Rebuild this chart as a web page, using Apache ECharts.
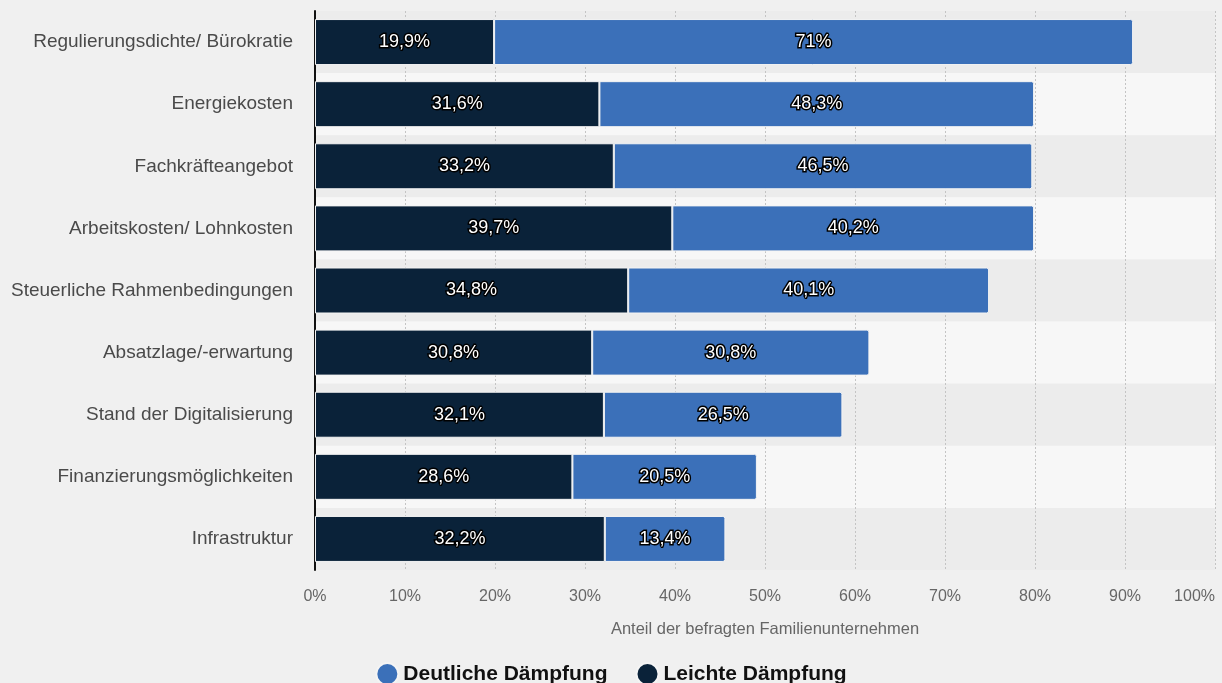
<!DOCTYPE html>
<html>
<head>
<meta charset="utf-8">
<script src="https://cdn.jsdelivr.net/npm/echarts@6/dist/echarts.min.js"></script>
<style>
html,body{margin:0;padding:0;background:#f0f0f0;}
#c{width:1222px;height:683px;}
</style>
</head>
<body>
<div id="c"></div>
<script>
const categories = [
  "Regulierungsdichte/ Bürokratie",
  "Energiekosten",
  "Fachkräfteangebot",
  "Arbeitskosten/ Lohnkosten",
  "Steuerliche Rahmenbedingungen",
  "Absatzlage/-erwartung",
  "Stand der Digitalisierung",
  "Finanzierungsmöglichkeiten",
  "Infrastruktur"
];
const leichte = [19.9, 31.6, 33.2, 39.7, 34.8, 30.8, 32.1, 28.6, 32.2];
const deutliche = [71, 48.3, 46.5, 40.2, 40.1, 30.8, 26.5, 20.5, 13.4];
const xTicks = [0, 10, 20, 30, 40, 50, 60, 70, 80, 90, 100];

const fmt = v => (Number.isInteger(v) ? String(v) : v.toFixed(1).replace('.', ',')) + '%';
const FONT = 'Liberation Sans, Arial, sans-serif';

const labelStyle = {
  show: true,
  position: 'inside',
  color: '#ffffff',
  fontFamily: FONT,
  fontSize: 18,
  textBorderColor: '#000000',
  textBorderWidth: 3,
  formatter: p => fmt(p.value)
};

const chart = echarts.init(document.getElementById('c'));
chart.setOption({
  backgroundColor: '#f0f0f0',
  animation: false,
  grid: { left: 315, right: 7, top: 11, bottom: 113, containLabel: false },
  legend: {
    top: 657,
    left: 'center',
    icon: 'circle',
    itemWidth: 22,
    itemHeight: 22,
    itemGap: 28,
    data: ['Deutliche Dämpfung', 'Leichte Dämpfung'],
    textStyle: { fontFamily: FONT, fontSize: 21, fontWeight: 'bold', color: '#111' }
  },
  xAxis: {
    type: 'value',
    min: 0, max: 100, interval: 10,
    name: 'Anteil der befragten Familienunternehmen',
    nameLocation: 'middle',
    nameGap: 51,
    nameTextStyle: { fontFamily: FONT, fontSize: 16.5, color: '#666' },
    axisLine: { show: false },
    axisTick: { show: false },
    axisLabel: {
      margin: 19,
      fontFamily: FONT, fontSize: 16, color: '#666',
      alignMaxLabel: 'right',
      formatter: v => xTicks.includes(v) ? v + '%' : ''
    },
    splitLine: { show: true, lineStyle: { color: '#c4c4c4', type: [2, 2], width: 1 } }
  },
  yAxis: {
    type: 'category',
    data: categories,
    inverse: true,
    axisLine: { show: true, lineStyle: { color: '#111', width: 2 } },
    axisTick: { show: false },
    axisLabel: { margin: 22, fontFamily: FONT, fontSize: 19, color: '#4a4a4a' },
    splitArea: { show: true, areaStyle: { color: ['#ececec', '#f7f7f7'] } }
  },
  series: [
    {
      name: 'Leichte Dämpfung',
      type: 'bar',
      stack: 'a',
      data: leichte,
      barWidth: 46,
      itemStyle: { color: '#0a2239', borderColor: '#f4f4f4', borderWidth: 1 },
      label: labelStyle
    },
    {
      name: 'Deutliche Dämpfung',
      type: 'bar',
      stack: 'a',
      data: deutliche,
      barWidth: 46,
      itemStyle: { color: '#3b70b9', borderColor: '#f4f4f4', borderWidth: 1, borderRadius: [0, 2, 2, 0] },
      label: labelStyle
    }
  ]
});
</script>
</body>
</html>
